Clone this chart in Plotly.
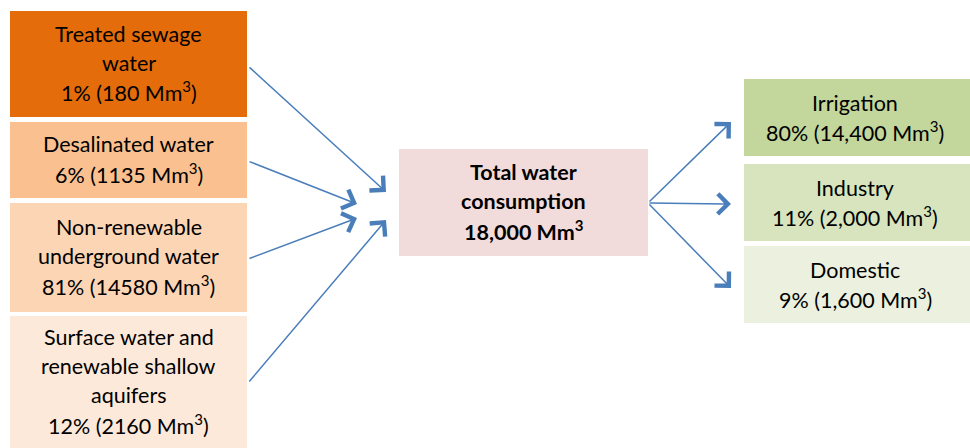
import plotly.graph_objects as go

# ---- data ----
source_names = [["Treated sewage", "water"], ["Desalinated water"],
                ["Non-renewable", "underground water"],
                ["Surface water and", "renewable shallow", "aquifers"]]
source_pct = [1, 6, 81, 12]
source_vol = ["180", "1135", "14580", "2160"]

total_label = ["Total water", "consumption"]
total_vol = "18,000"

use_names = ["Irrigation", "Industry", "Domestic"]
use_pct = [80, 11, 9]
use_vol = ["14,400", "2,000", "1,600"]

# ---- layout / styles ----
W, H = 970, 448
src_colors = ["#E46C0A", "#FAC090", "#FCD5B5", "#FDE9D9"]
use_colors = ["#C3D69B", "#D7E4BD", "#EBF1DE"]
center_color = "#F2DCDB"
arrow_color = "#4A7EBB"
FONT = "Lato"
FS = 21.5
LS = 29
DY = -1.5

src_x = (10, 247)
src_y = [(11, 117), (122, 198), (203, 312), (316, 448)]
src_arrow_start = [(248, 66), (248, 161), (248, 259), (248, 383)]
src_arrow_end = [(386, 192), (357, 204), (357, 218), (386, 220)]

ctr_x, ctr_y = (399, 648), (149, 256)

use_x = (744, 970)
use_y = [(79, 156), (164, 241), (246, 323)]
use_arrow_start = (648, 203)
use_arrow_end = [(731, 122), (731, 204), (731, 288)]

fig = go.Figure()
shapes, annos = [], []


def add_lines(lines, cx, cy, bold=False):
    n = len(lines)
    for i, t in enumerate(lines):
        y = cy + (i - (n - 1) / 2) * LS + DY
        annos.append(dict(x=cx, y=y, xref="x", yref="y", text=(f"<b>{t}</b>" if bold else t),
                          showarrow=False, xanchor="center", yanchor="middle",
                          font=dict(family=FONT, size=FS, color="#000000")))


def add_arrow(start, end):
    (ax, ay), (x, y) = start, end
    annos.append(dict(x=x, y=y, ax=ax, ay=ay, xref="x", yref="y", axref="x", ayref="y",
                      text="", showarrow=True, arrowhead=4, arrowsize=2.6, arrowwidth=1.5,
                      arrowcolor=arrow_color))


for i in range(4):
    y0, y1 = src_y[i]
    shapes.append(dict(type="rect", xref="x", yref="y", x0=src_x[0], x1=src_x[1], y0=y0, y1=y1,
                       fillcolor=src_colors[i], line=dict(width=0), layer="below"))
    lines = source_names[i] + [f"{source_pct[i]}% ({source_vol[i]} Mm<sup>3</sup>)"]
    add_lines(lines, (src_x[0] + src_x[1]) / 2, (y0 + y1) / 2)
    add_arrow(src_arrow_start[i], src_arrow_end[i])

shapes.append(dict(type="rect", xref="x", yref="y", x0=ctr_x[0], x1=ctr_x[1], y0=ctr_y[0], y1=ctr_y[1],
                   fillcolor=center_color, line=dict(width=0), layer="below"))
add_lines(total_label + [f"{total_vol} Mm<sup>3</sup>"], (ctr_x[0] + ctr_x[1]) / 2,
          (ctr_y[0] + ctr_y[1]) / 2, bold=True)

for i in range(3):
    y0, y1 = use_y[i]
    shapes.append(dict(type="rect", xref="x", yref="y", x0=use_x[0], x1=use_x[1], y0=y0, y1=y1,
                       fillcolor=use_colors[i], line=dict(width=0), layer="below"))
    add_lines([use_names[i], f"{use_pct[i]}% ({use_vol[i]} Mm<sup>3</sup>)"],
              (use_x[0] + use_x[1]) / 2 - 2, (y0 + y1) / 2 + 1)
    add_arrow(use_arrow_start, use_arrow_end[i])

fig.update_layout(
    width=W, height=H, margin=dict(l=0, r=0, t=0, b=0),
    paper_bgcolor="white", plot_bgcolor="white", showlegend=False,
    xaxis=dict(range=[0, W], visible=False, fixedrange=True),
    yaxis=dict(range=[H, 0], visible=False, fixedrange=True),
    shapes=shapes, annotations=annos,
)
fig.write_html("out.html", config={"displayModeBar": False},
               post_script="document.body.style.margin='0';document.body.style.overflow='hidden';")
